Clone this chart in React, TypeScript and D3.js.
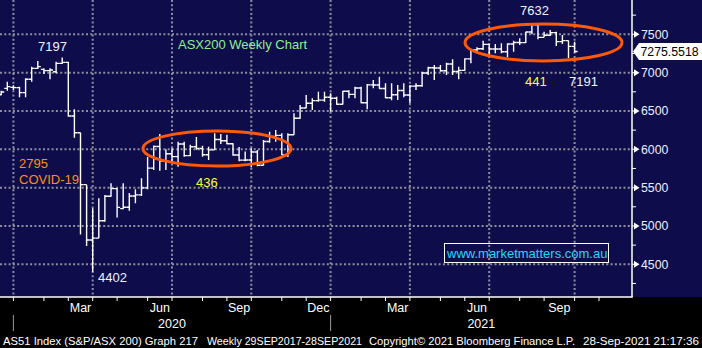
import React from "react";
import * as d3 from "d3";

// Weekly bars (Bloomberg dates bars by week-end Friday; last bar is the current partial week)
const dates = [
  "2019-12-13","2019-12-20","2019-12-27","2020-01-03","2020-01-10","2020-01-17","2020-01-24","2020-01-31",
  "2020-02-07","2020-02-14","2020-02-21","2020-02-28","2020-03-06","2020-03-13","2020-03-20","2020-03-27",
  "2020-04-03","2020-04-10","2020-04-17","2020-04-24","2020-05-01","2020-05-08","2020-05-15","2020-05-22",
  "2020-05-29","2020-06-05","2020-06-12","2020-06-19","2020-06-26","2020-07-03","2020-07-10","2020-07-17",
  "2020-07-24","2020-07-31","2020-08-07","2020-08-14","2020-08-21","2020-08-28","2020-09-04","2020-09-11",
  "2020-09-18","2020-09-25","2020-10-02","2020-10-09","2020-10-16","2020-10-23","2020-10-30","2020-11-06",
  "2020-11-13","2020-11-20","2020-11-27","2020-12-04","2020-12-11","2020-12-18","2020-12-25","2021-01-01",
  "2021-01-08","2021-01-15","2021-01-22","2021-01-29","2021-02-05","2021-02-12","2021-02-19","2021-02-26",
  "2021-03-05","2021-03-12","2021-03-19","2021-03-26","2021-04-02","2021-04-09","2021-04-16","2021-04-23",
  "2021-04-30","2021-05-07","2021-05-14","2021-05-21","2021-05-28","2021-06-04","2021-06-11","2021-06-18",
  "2021-06-25","2021-07-02","2021-07-09","2021-07-16","2021-07-23","2021-07-30","2021-08-06","2021-08-13",
  "2021-08-20","2021-08-27","2021-09-03","2021-09-10","2021-09-17","2021-09-24","2021-09-28",
];
// future weekly slots shown on the axis after the last bar
const futureDates = ["2021-10-08","2021-10-15","2021-10-22","2021-10-29","2021-11-05"];

const open = [
  6712,6795,6808,6804,6739,6913,7056,7043,7026,7012,7121,7134,6434,6216,5539,4817,
  4842,5068,5387,5487,5226,5245,5391,5405,5497,5755,6037,5847,5942,5904,6070,5918,
  6034,6010,5928,5992,6127,6112,6073,5925,5859,5860,5965,5791,6102,6168,6182,5927,
  6190,6405,6539,6601,6635,6642,6678,6665,6587,6757,6716,6800,6607,6840,6839,6793,
  6673,6711,6767,6708,6824,6828,6995,7063,7061,7025,7113,7014,7030,7179,7296,7312,
  7369,7308,7309,7273,7373,7394,7392,7530,7625,7460,7488,7522,7404,7417,7342,
];
const high = [
  6765,6882,6834,6817,6926,7078,7152,7056,7056,7143,7197,7143,6521,6216,5539,5230,
  5360,5404,5556,5491,5556,5430,5480,5621,5900,6050,6200,6000,6013,6100,6100,6060,
  6160,6045,6034,6208,6200,6190,6080,6030,5970,6013,5991,6121,6230,6252,6208,6208,
  6469,6578,6708,6665,6752,6752,6730,6687,6760,6770,6817,6817,6852,6904,6947,6860,
  6860,6839,6860,6839,6860,7013,7078,7100,7100,7130,7173,7078,7186,7304,7330,7417,
  7373,7373,7382,7382,7417,7447,7534,7632,7630,7534,7556,7534,7491,7420,7404,
];
const low = [
  6704,6765,6773,6678,6678,6882,7047,6982,6913,6991,7113,6426,6150,4890,4739,4402,
  4839,5056,5382,5112,5217,5200,5295,5390,5480,5730,5720,5730,5840,5773,5904,5910,
  5995,5904,5860,5990,6070,6065,5915,5845,5845,5765,5780,5790,6087,6100,5926,5900,
  6187,6400,6534,6513,6621,6621,6491,6580,6585,6665,6665,6600,6521,6795,6790,6665,
  6640,6643,6678,6600,6773,6817,6969,6904,7013,6969,6969,6913,7026,7121,7273,7295,
  7230,7252,7252,7200,7273,7360,7385,7500,7434,7460,7478,7347,7373,7191,7260,
];
const close = [
  6747,6817,6804,6739,6913,7056,7078,7026,7034,7121,7134,6434,6216,5539,4817,4842,
  5068,5387,5487,5242,5245,5391,5405,5497,5755,6037,5847,5942,5904,6070,5918,6034,
  6010,5928,5992,6127,6112,6073,5925,5859,5860,5965,5791,6102,6168,6182,5927,6190,
  6405,6539,6601,6635,6642,6678,6665,6587,6757,6716,6800,6607,6840,6839,6793,6673,
  6711,6767,6708,6824,6828,6995,7063,7061,7025,7113,7014,7030,7179,7296,7312,7369,
  7308,7309,7273,7373,7394,7392,7530,7628,7460,7488,7522,7404,7417,7342,7275.5518,
];

const yTicks = [4500, 5000, 5500, 6000, 6500, 7000, 7500];
const yMinorTicks = [4250, 4750, 5250, 5750, 6250, 6750, 7250, 7750];
const quarterLabels: Record<number, string> = { 2: "Mar", 5: "Jun", 8: "Sep", 11: "Dec" };
const lastPrice = 7275.5518;
const footerParts = [
  "AS51 Index (S&P/ASX 200) Graph 217",
  "Weekly 29SEP2017-28SEP2021",
  "Copyright\u00A9 2021 Bloomberg Finance L.P.",
  "28-Sep-2021 21:17:36",
];

const W = 702, H = 348;
const PLOT_R = 632, PLOT_B = 297;
const BG = "#0e0c4a";
const GRID = "#8f8f9c";
const SANS = "'Liberation Sans', Arial, sans-serif";

export default function App() {
  const parse = d3.timeParse("%Y-%m-%d");
  const allDates = [...dates, ...futureDates].map((s) => parse(s) as Date);
  const n = dates.length;

  const x = d3.scaleLinear().domain([0, n - 1]).range([1.2, 574.6]);
  const y = d3.scaleLinear().domain([4500, 7500]).range([264.3, 34.3]);

  // month-end ticks: last weekly slot in each month
  const monthTicks: { i: number; m: number; yr: number; x: number }[] = [];
  for (let i = 0; i < allDates.length - 1; i++) {
    if (allDates[i + 1].getMonth() !== allDates[i].getMonth()) {
      const px = x(i);
      if (px <= PLOT_R) monthTicks.push({ i, m: allDates[i].getMonth(), yr: allDates[i].getFullYear(), x: px });
    }
  }
  const quarterTicks = monthTicks.filter((t) => t.m % 3 === 2);
  const monthLabels = monthTicks
    .map((t, k) => (k > 0 && quarterLabels[t.m] ? { label: quarterLabels[t.m], x: (monthTicks[k - 1].x + t.x) / 2 } : null))
    .filter(Boolean) as { label: string; x: number }[];
  const yearEnds = monthTicks.filter((t) => t.m === 11);
  const yearLabels = yearEnds.map((t, k) => ({
    label: String(t.yr + 1),
    x: (t.x + (k + 1 < yearEnds.length ? yearEnds[k + 1].x : PLOT_R)) / 2,
  }));

  const barPath = (i: number) => {
    const xi = x(i);
    return `M${xi},${y(high[i])}V${y(low[i])}M${xi - 3},${y(open[i])}H${xi}M${xi},${y(close[i])}H${xi + 3}`;
  };

  const footerX = [3, 207, 369, 583];
  const footerW = [195, 155, 206, 116];
  const yl = y(lastPrice);

  return (
    <svg width={W} height={H} style={{ position: "fixed", left: 0, top: 0, display: "block" }}>
      <rect x={0} y={0} width={W} height={H} fill="#000" />
      <rect x={0} y={0} width={W} height={PLOT_B} fill={BG} />

      {/* grid */}
      <g stroke={GRID} strokeWidth={2} strokeDasharray="2,2.3">
        {yTicks.map((v) => (
          <line key={"h" + v} x1={0} x2={PLOT_R} y1={y(v)} y2={y(v)} />
        ))}
        {quarterTicks.map((t) => (
          <line key={"v" + t.i} x1={t.x} x2={t.x} y1={0} y2={PLOT_B} />
        ))}
      </g>

      {/* OHLC bars */}
      <g stroke="#ffffff" strokeWidth={1.4} fill="none">
        {dates.map((d, i) => (
          <path key={d} d={barPath(i)} />
        ))}
      </g>

      {/* ellipses */}
      <g fill="none" stroke="#ff5a0a" strokeWidth={3}>
        <ellipse cx={217} cy={148.5} rx={74} ry={17.5} />
        <ellipse cx={543.5} cy={42.5} rx={78.5} ry={18.5} />
      </g>

      {/* annotations */}
      <g fontFamily={SANS} fontSize={13}>
        <text x={38} y={51} fill="#eef3ff">7197</text>
        <text x={178} y={49} fill="#8ff08f">ASX200 Weekly Chart</text>
        <text x={520} y={15} fill="#eef3ff">7632</text>
        <text x={525} y={86} fill="#ffff3a">441</text>
        <text x={569} y={86} fill="#eef3ff">7191</text>
        <text x={19} y={168} fill="#ff8c1e">2795</text>
        <text x={19} y={184} fill="#ff8c1e">COVID-19</text>
        <text x={196} y={187} fill="#ffff3a">436</text>
        <text x={98} y={282} fill="#eef3ff">4402</text>
        <rect x={444.5} y={243.5} width={164} height={19} fill="none" stroke="#ffffff" strokeWidth={1} />
        <text x={447} y={257.5} fill="#20d8ff">www.marketmatters.com.au</text>
      </g>

      {/* axes */}
      <g stroke="#ffffff" strokeWidth={1.5}>
        <line x1={0} x2={PLOT_R + 0.75} y1={PLOT_B} y2={PLOT_B} />
        <line x1={PLOT_R} x2={PLOT_R} y1={0} y2={PLOT_B} />
      </g>
      <g stroke="#ffffff" strokeWidth={1}>
        {monthTicks.map((t) => (
          <line key={"mt" + t.i} x1={t.x} x2={t.x} y1={PLOT_B} y2={PLOT_B + 4} />
        ))}
        {yMinorTicks.map((v) => (
          <line key={"ym" + v} x1={PLOT_R} x2={PLOT_R + 4} y1={y(v)} y2={y(v)} />
        ))}
      </g>
      <g stroke="#9a9a9a" strokeWidth={1}>
        {yearEnds.map((t) => (
          <line key={"ys" + t.i} x1={t.x} x2={t.x} y1={315} y2={331} />
        ))}
      </g>
      {yTicks.map((v) => (
        <g key={"yl" + v}>
          <path d={`M${PLOT_R},${y(v) - 0.5}H${PLOT_R + 2}L${PLOT_R + 2},${y(v) - 3.5}L${PLOT_R + 7.5},${y(v)}L${PLOT_R + 2},${y(v) + 3.5}V${y(v) + 0.5}H${PLOT_R}Z`} fill="#ffffff" />
          <text x={641} y={y(v) + 4.5} fill="#eaf0ff" fontFamily={SANS} fontSize={12.3}>{v}</text>
        </g>
      ))}
      <path d={`M${PLOT_R + 1},${yl}L${PLOT_R + 7},${yl - 8.5}H${W}V${yl + 8.5}H${PLOT_R + 7}Z`} fill="#ffffff" />
      <text x={640.5} y={yl + 4.5} fill="#000" fontFamily={SANS} fontSize={12.3}>{lastPrice.toFixed(4)}</text>

      {/* x labels */}
      <g fill="#ffffff" fontFamily={SANS} fontSize={12.5} textAnchor="middle">
        {monthLabels.map((m) => (
          <text key={m.label + m.x} x={m.x} y={312}>{m.label}</text>
        ))}
        {yearLabels.map((m) => (
          <text key={m.label} x={m.x} y={328}>{m.label}</text>
        ))}
      </g>
      <g fill="#ffffff" fontFamily={SANS} fontSize={11.5}>
        {footerParts.map((s, k) => (
          <text key={k} x={footerX[k]} y={344.5} textLength={footerW[k]} lengthAdjust="spacingAndGlyphs">{s}</text>
        ))}
      </g>
    </svg>
  );
}
